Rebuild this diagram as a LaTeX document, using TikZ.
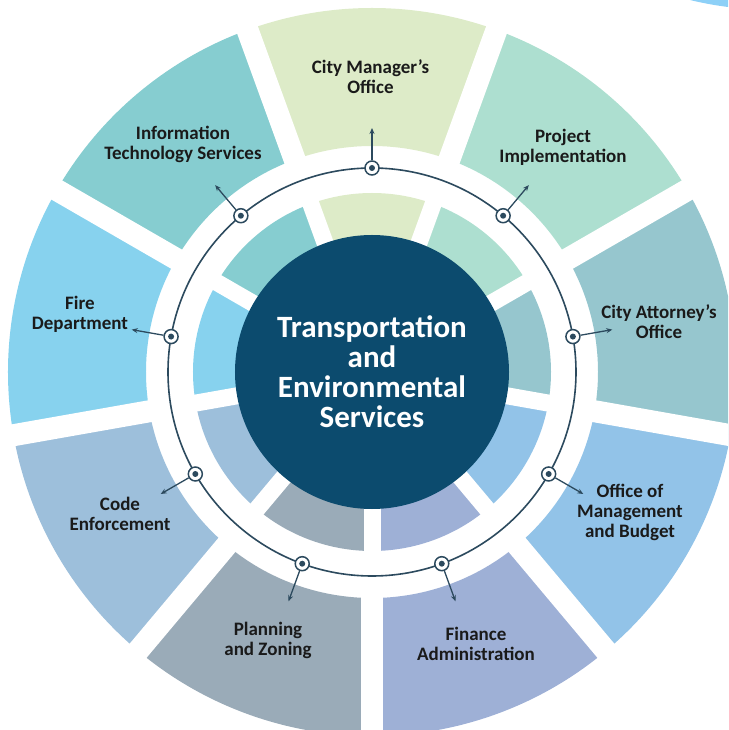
\documentclass[tikz,border=0pt]{standalone}
\usepackage{fontspec}
\setmainfont{Carlito}
\usetikzlibrary{arrows.meta}
\definecolor{cCMO}{HTML}{DDEBC8}
\definecolor{cPI}{HTML}{ADDFD0}
\definecolor{cCAO}{HTML}{96C6CE}
\definecolor{cOMB}{HTML}{92C3E8}
\definecolor{cFA}{HTML}{9EB0D6}
\definecolor{cPZ}{HTML}{9AABB8}
\definecolor{cCE}{HTML}{9DBFDB}
\definecolor{cFD}{HTML}{87D2EE}
\definecolor{cITS}{HTML}{86CDD0}
\definecolor{cCenter}{HTML}{0C4B6E}
\definecolor{lineC}{HTML}{2C4A5E}
\definecolor{cGlow}{HTML}{8DD0F7}
\definecolor{txtC}{HTML}{1A1A1A}
\begin{document}
\begin{tikzpicture}[x=1pt,y=1pt,
  lbl/.style={font=\fontsize{19}{20}\selectfont\bfseries, align=center, text=txtC, inner sep=0pt},
  mk/.style={circle, draw=lineC, line width=1.5pt, fill=white, minimum size=14pt, inner sep=0pt,
    path picture={\fill[lineC] (path picture bounding box.center) circle (3pt);}},
  conn/.style={-{Stealth[length=6pt,width=5pt]}, line width=1.3pt, draw=lineC},
  gapout/.style={white, line width=22pt},
  gapin/.style={white, line width=17pt}
]
\useasboundingbox (-372,-358) rectangle (356,372);
\clip (-372,-358) rectangle (356,372);
% ring segments
\foreach \a/\c in {70/cCMO, 30/cPI, -10/cCAO, -50/cOMB, -90/cFA, -130/cPZ, -170/cCE, 150/cFD, 110/cITS} {
  \fill[\c] (\a:226) arc[start angle=\a, end angle={\a+40}, radius=226] -- ({\a+40}:364)
    arc[start angle={\a+40}, end angle=\a, radius=364] -- cycle;
  \fill[\c] (\a:120) arc[start angle=\a, end angle={\a+40}, radius=120] -- ({\a+40}:179)
    arc[start angle={\a+40}, end angle=\a, radius=179] -- cycle;
}
% gaps
\foreach \a in {70,30,-10,-50,-90,-130,-170,150,110} {
  \draw[gapout] (\a:200) -- (\a:390);
  \draw[gapin] (0,0) -- (\a:200);
}
% glow sliver top right
\fill[cGlow] (318,372) .. controls (330,369) and (344,366.5) .. (356,365) -- (356,372) -- cycle;
% centre
\node[circle, fill=cCenter, minimum size=274pt, inner sep=0pt, align=center, text=white,
  font=\fontsize{31}{30}\selectfont\bfseries] (centre) at (0,0) {Transportation\\and\\Environmental\\Services};
% ring line
\draw[lineC, line width=1.6pt] (0,0) circle (204);
% markers and arrows
\foreach \a/\n in {90/1,50/2,10/3,-30/4,-70/5,-110/6,-150/7,170/8,130/9} {
  \node[mk] (m\n) at (\a:204) {};
  \coordinate (t\n) at (\a:244);
  \draw[conn] (m\n) -- (t\n);
}
% labels
\node[lbl] (l1) at (-1.5,295.5) {City Manager’s\\Office};
\node[lbl] (l2) at (191,225) {Project\\Implementation};
\node[lbl] (l3) at (287,50) {City Attorney’s\\Office};
\node[lbl] (l4) at (258,-140) {Office of\\Management\\and Budget};
\node[lbl] (l5) at (104,-272) {Finance\\Administration};
\node[lbl] (l6) at (-104,-268) {Planning\\and Zoning};
\node[lbl] (l7) at (-252,-142) {Code\\Enforcement};
\node[lbl] (l8) at (-292,58) {Fire\\Department};
\node[lbl] (l9) at (-189,228) {Information\\Technology Services};
\end{tikzpicture}
\end{document}
